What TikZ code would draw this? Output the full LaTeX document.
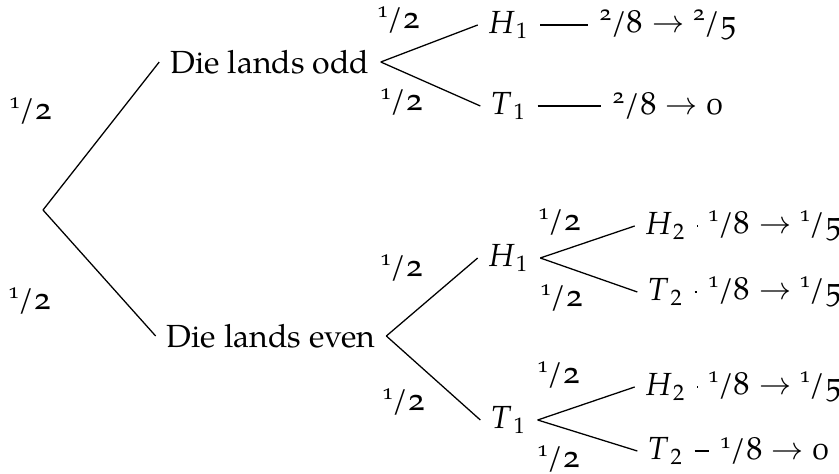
\documentclass[tikz,border=0pt]{standalone}
\usepackage{fontspec}
\setmainfont{TeX Gyre Pagella}[Numbers=OldStyle]
\newcommand{\ofrac}[2]{\textsuperscript{#1}\kern-.05em/#2}
\newcommand{\half}{\ofrac{1}{2}}
\newcommand{\coin}[2]{\textit{#1}\kern.05em\textsubscript{\addfontfeature{Numbers=Lining}#2}}

\begin{document}
\begin{tikzpicture}[
  x=0.3125pt,y=-0.3125pt,
  every node/.style={font=\normalsize},
  state/.style={inner sep=0.3333em},
  prob/.style={inner sep=1pt},
  br/.style={line width=0.4pt}
]
  \useasboundingbox (0,0) rectangle (839,474);

  % first throw: the die
  \coordinate (root) at (43,210);
  \node[state] (odd) at (270,62) {Die lands odd};
  \node[state] (even) at (271,336) {Die lands even};

  % second level: first coin
  \node[state] (oddH) at (509,25) {\coin{H}{1}};
  \node[state] (oddT) at (509,106) {\coin{T}{1}};
  \node[state] (evH) at (509,258) {\coin{H}{1}};
  \node[state] (evT) at (509,420) {\coin{T}{1}};

  % odd branch stops after one coin
  \node[state] (oddHres) at (668,25) {\ofrac{2}{8}${}\to{}$\ofrac{2}{5}};
  \node[state] (oddTres) at (668,106) {\ofrac{2}{8}${}\to{}$0};

  % even branch: second coin
  \node[state] (evHH) at (666,226) {\coin{H}{2}};
  \node[state] (evHT) at (666,292) {\coin{T}{2}};
  \node[state] (evTH) at (666,387) {\coin{H}{2}};
  \node[state] (evTT) at (666,451) {\coin{T}{2}};
  \node[state] (evHHres) at (775,226) {\ofrac{1}{8}${}\to{}$\ofrac{1}{5}};
  \node[state] (evHTres) at (775,292) {\ofrac{1}{8}${}\to{}$\ofrac{1}{5}};
  \node[state] (evTHres) at (775,387) {\ofrac{1}{8}${}\to{}$\ofrac{1}{5}};
  \node[state] (evTTres) at (775,451) {\ofrac{1}{8}${}\to{}$0};

  % branch probabilities
  \node[prob] (pOdd) at (31,111) {\half};
  \node[prob] (pEven) at (30,301) {\half};
  \node[prob] (pOddH) at (399,20) {\half};
  \node[prob] (pOddT) at (402,102) {\half};
  \node[prob] (pEvH) at (402,268) {\half};
  \node[prob] (pEvT) at (404,402) {\half};
  \node[prob] (pEvHH) at (560,222) {\half};
  \node[prob] (pEvHT) at (562,298) {\half};
  \node[prob] (pEvTH) at (559,375) {\half};
  \node[prob] (pEvTT) at (559,459) {\half};

  \draw[br] (root) -- (odd.west);
  \draw[br] (root) -- (even.west);
  \draw[br] (odd.east) -- (oddH.west);
  \draw[br] (odd.east) -- (oddT.west);
  \draw[br] (even.east) -- (evH.west);
  \draw[br] (even.east) -- (evT.west);
  \draw[br] (oddH.east) -- (oddHres.west);
  \draw[br] (oddT.east) -- (oddTres.west);
  \draw[br] (evH.east) -- (evHH.west);
  \draw[br] (evH.east) -- (evHT.west);
  \draw[br] (evT.east) -- (evTH.west);
  \draw[br] (evT.east) -- (evTT.west);
  \draw[br] (evHH.east) -- (evHHres.west);
  \draw[br] (evHT.east) -- (evHTres.west);
  \draw[br] (evTH.east) -- (evTHres.west);
  \draw[br] (evTT.east) -- (evTTres.west);
\end{tikzpicture}
\end{document}
